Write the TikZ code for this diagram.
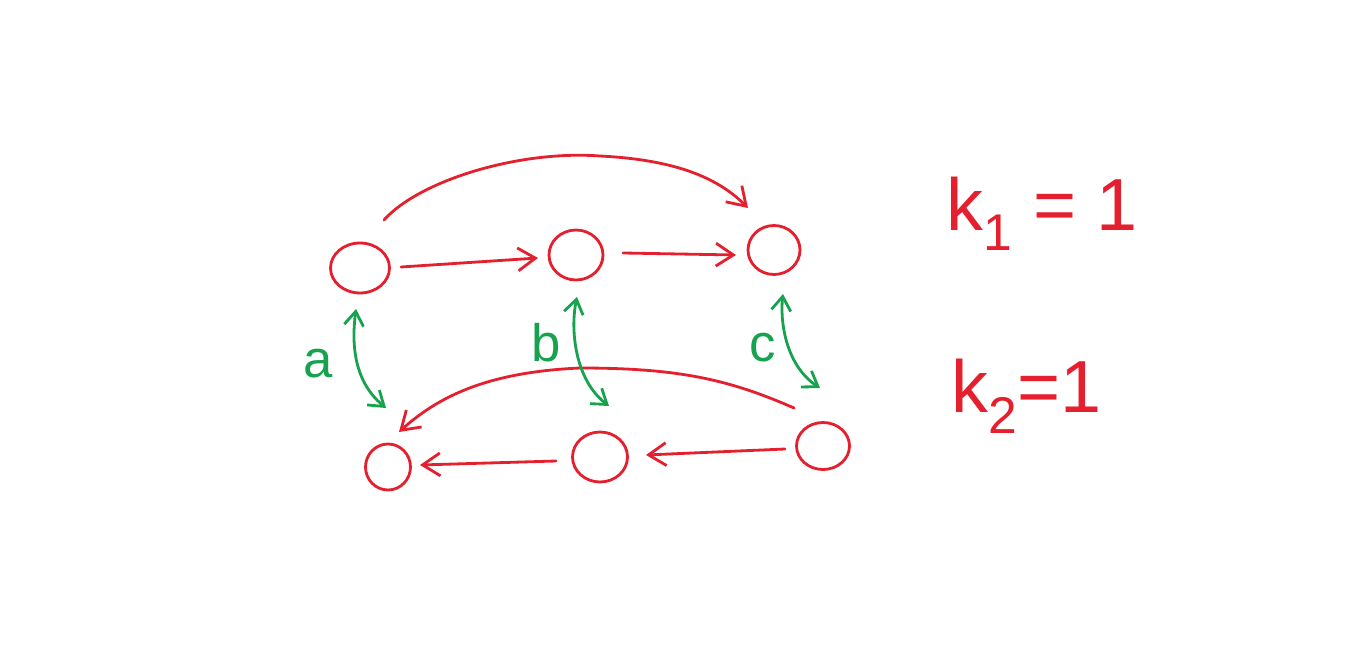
\documentclass[tikz,border=0pt]{standalone}
\usepackage{fontspec}
\setmainfont{Liberation Sans}
\usetikzlibrary{arrows.meta,shapes.geometric}
\definecolor{inkred}{HTML}{E5202E}
\definecolor{inkgreen}{HTML}{17A24E}
\begin{document}
\begin{tikzpicture}[x=0.02cm,y=-0.02cm,
  vtx/.style={draw=inkred,line width=1.6pt,ellipse,inner sep=0pt},
  redarr/.style={draw=inkred,line width=1.6pt,line cap=round,-{Straight Barb[length=10pt,width=13pt]}},
  grnarr/.style={draw=inkgreen,line width=1.6pt,line cap=round,{Straight Barb[length=8pt,width=11pt]}-{Straight Barb[length=8pt,width=11pt]}},
  grnlbl/.style={text=inkgreen,font=\fontsize{30}{30}\selectfont},
  redlbl/.style={text=inkred,font=\fontsize{42}{42}\selectfont,anchor=west}]
\useasboundingbox (0,0) rectangle (1348,665);
% vertices
\node[vtx,minimum width=1.18cm,minimum height=1.0cm] (a1) at (360,268) {};
\node[vtx,minimum width=1.08cm,minimum height=1.0cm] (a2) at (576,255) {};
\node[vtx,minimum width=1.04cm,minimum height=0.98cm] (a3) at (774,250) {};
\node[vtx,minimum width=0.9cm,minimum height=0.92cm] (b1) at (388,467) {};
\node[vtx,minimum width=1.1cm,minimum height=1.0cm] (b2) at (600,457) {};
\node[vtx,minimum width=1.06cm,minimum height=0.94cm] (b3) at (823,446) {};
% helper coordinates
\coordinate (a1e) at (401,267);
\coordinate (a2w) at (538,258);
\coordinate (a2e) at (623,253);
\coordinate (a3w) at (736,255);
\coordinate (a1t) at (384,220);
\coordinate (a3t) at (748,208);
\coordinate (b3w) at (785,449);
\coordinate (b2e) at (646,455);
\coordinate (b2w) at (556,461);
\coordinate (b1e) at (420,465);
\coordinate (b3t) at (794,408);
\coordinate (b1t) at (399,432);
\coordinate (a1s) at (356,309);
\coordinate (b1n) at (386,408);
\coordinate (a2s) at (577,297);
\coordinate (b2n) at (609,406);
\coordinate (a3s) at (783,294);
\coordinate (b3n) at (820,388);
% red arrows
\draw[redarr] (a1e) -- (a2w);
\draw[redarr] (a2e) -- (a3w);
\draw[redarr] (a1t) .. controls (420,180) and (520,150) .. (600,156) .. controls (680,160) and (720,180) .. (a3t);
\draw[redarr] (b3w) -- (b2e);
\draw[redarr] (b2w) -- (b1e);
\draw[redarr] (b3t) .. controls (730,380) and (680,368) .. (580,368) .. controls (490,372) and (440,395) .. (b1t);
% green double arrows
\draw[grnarr] (a1s) .. controls (352,340) and (352,380) .. (b1n);
\draw[grnarr] (a2s) .. controls (570,330) and (575,380) .. (b2n);
\draw[grnarr] (a3s) .. controls (780,320) and (785,365) .. (b3n);
% labels
\node[grnlbl] (la) at (318,364) {a};
\node[grnlbl] (lb) at (546,343) {b};
\node[grnlbl] (lc) at (763,348) {c};
\node[redlbl] (k1) at (940,214) {k\textsubscript{1} = 1};
\node[redlbl] (k2) at (945,396) {k\textsubscript{2}=1};
\end{tikzpicture}
\end{document}
